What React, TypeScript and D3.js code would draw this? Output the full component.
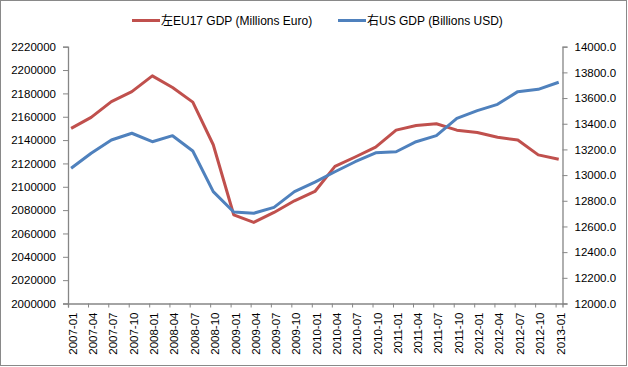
import React, { useEffect, useRef } from 'react';
import * as d3 from 'd3';

// quarterly categories
const periods = [
  '2007-01', '2007-04', '2007-07', '2007-10',
  '2008-01', '2008-04', '2008-07', '2008-10',
  '2009-01', '2009-04', '2009-07', '2009-10',
  '2010-01', '2010-04', '2010-07', '2010-10',
  '2011-01', '2011-04', '2011-07', '2011-10',
  '2012-01', '2012-04', '2012-07', '2012-10',
  '2013-01',
];

// EU17 GDP, millions euro (left axis)
const euGdp = [
  2150000, 2159500, 2173000, 2181500, 2195000, 2185000, 2172500, 2136000,
  2076000, 2069500, 2078000, 2088000, 2096000, 2117500, 2125500, 2134000,
  2148500, 2152500, 2154000, 2148500, 2146500, 2142500, 2140000, 2127300,
  2123600,
];

// US GDP, billions USD (right axis)
const usGdp = [
  13053, 13170, 13273, 13326, 13260, 13307, 13188, 12871,
  12713, 12703, 12749, 12871, 12945, 13026, 13104, 13174,
  13182, 13260, 13307, 13442, 13502, 13551, 13650, 13668,
  13723,
];

const leftTicks = d3.range(2000000, 2220001, 20000);
const rightTicks = d3.range(12000, 14000.1, 200);

const seriesNames = ['左EU17 GDP (Millions Euro)', '右US GDP (Billions USD)'];
const colors = ['#C0504D', '#4F81BD'];

const W = 628;
const H = 367;
const FONT = '"Liberation Sans", Arial, "Noto Sans CJK SC", sans-serif';

const Chart = () => {
  const ref = useRef<SVGSVGElement>(null);

  useEffect(() => {
    const svg = d3.select(ref.current);
    svg.selectAll('*').remove();

    const left = 68, right = 562.5, top = 46.7, bottom = 303.5;
    const axisColor = '#868686';

    const parse = d3.utcParse('%Y-%m');
    const tickDates = periods.map((p) => parse(p) as Date);
    const pointDates = tickDates.map((d) => d3.utcDay.offset(d, 14));

    const x = d3.scaleUtc()
      .domain([tickDates[0], d3.utcMonth.offset(tickDates[tickDates.length - 1], 1)])
      .range([left, right]);
    const yL = d3.scaleLinear().domain([2000000, 2220000]).range([bottom, top]);
    const yR = d3.scaleLinear().domain([12000, 14000]).range([bottom, top]);

    // outer frame
    svg.append('rect')
      .attr('x', 0.5).attr('y', 0.5)
      .attr('width', W - 2).attr('height', H - 2)
      .attr('fill', '#fff')
      .attr('stroke', '#898989');

    // left axis
    const gL = svg.append('g').attr('transform', `translate(${left},0)`)
      .call(d3.axisLeft(yL).tickValues(leftTicks).tickSize(5).tickPadding(7).tickFormat(d3.format('d')));
    // right axis
    const gR = svg.append('g').attr('transform', `translate(${right},0)`)
      .call(d3.axisRight(yR).tickValues(rightTicks).tickSize(5).tickPadding(7).tickFormat(d3.format('.1f')));
    // bottom axis
    const gB = svg.append('g').attr('transform', `translate(0,${bottom})`)
      .call(d3.axisBottom(x).tickValues(tickDates).tickSize(4).tickFormat((_, i) => periods[i]));

    [gL, gR, gB].forEach((g) => {
      g.select('.domain').attr('stroke', axisColor).attr('stroke-width', 1.3);
      g.selectAll('.tick line').attr('stroke', axisColor);
      g.selectAll('text')
        .attr('fill', '#000')
        .style('font-family', FONT)
        .style('font-size', '11.5px');
    });

    gB.selectAll('.tick text')
      .attr('text-anchor', 'end')
      .attr('transform', 'translate(4.5,9) rotate(-90)')
      .attr('x', 0)
      .attr('y', 0)
      .attr('dy', '0.35em');

    // lines
    const lineL = d3.line<number>()
      .x((_, i) => x(pointDates[i]))
      .y((d) => yL(d));
    const lineR = d3.line<number>()
      .x((_, i) => x(pointDates[i]))
      .y((d) => yR(d));

    svg.append('path')
      .datum(euGdp)
      .attr('fill', 'none')
      .attr('stroke', colors[0])
      .attr('stroke-width', 3)
      .attr('stroke-linejoin', 'round')
      .attr('d', lineL);

    svg.append('path')
      .datum(usGdp)
      .attr('fill', 'none')
      .attr('stroke', colors[1])
      .attr('stroke-width', 3)
      .attr('stroke-linejoin', 'round')
      .attr('d', lineR);

    // legend
    const legendX = [132, 338];
    const lg = svg.append('g');
    seriesNames.forEach((name, i) => {
      lg.append('line')
        .attr('x1', legendX[i]).attr('x2', legendX[i] + 28)
        .attr('y1', 20.5).attr('y2', 20.5)
        .attr('stroke', colors[i])
        .attr('stroke-width', 3);
      lg.append('text')
        .attr('x', legendX[i] + 29)
        .attr('y', 25)
        .style('font-family', FONT)
        .style('font-size', '12px')
        .text(name);
    });
  }, []);

  return <svg ref={ref} width={W} height={H} style={{ position: 'absolute', left: 0, top: 0 }}></svg>;
};

export default function App() {
  return <Chart />;
}
